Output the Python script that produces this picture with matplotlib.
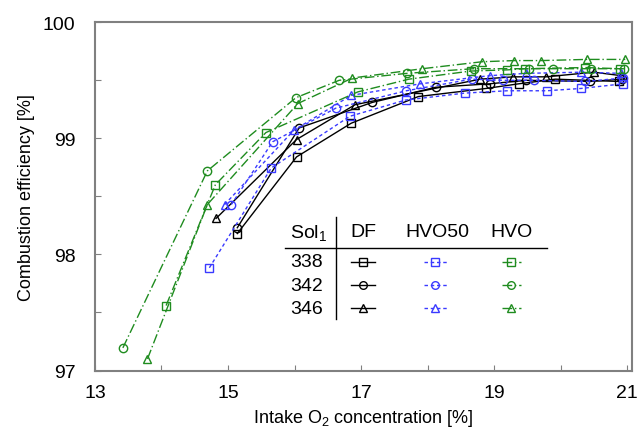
import matplotlib
matplotlib.use("Agg")
import matplotlib.pyplot as plt
from matplotlib.lines import Line2D

plt.rcParams['font.family'] = ['Liberation Sans', 'DejaVu Sans']
plt.rcParams['mathtext.fontset'] = 'custom'
plt.rcParams['mathtext.rm'] = 'Liberation Sans'
plt.rcParams['mathtext.default'] = 'regular'

# intake O2 [%] and combustion efficiency [%] for each fuel / Sol1 setting
df338_x = [15.14, 16.03, 16.85, 17.86, 18.88, 19.37, 19.92, 20.88]
df338_y = [98.18, 98.84, 99.13, 99.36, 99.43, 99.47, 99.51, 99.49]
df342_x = [15.14, 16.07, 17.17, 18.12, 18.93, 19.48, 20.44, 20.92]
df342_y = [98.23, 99.09, 99.31, 99.44, 99.47, 99.50, 99.49, 99.51]
df346_x = [14.82, 16.03, 16.91, 18.79, 19.29, 19.78, 20.50, 20.91]
df346_y = [98.31, 98.99, 99.29, 99.51, 99.53, 99.53, 99.57, 99.54]

h50_338_x = [14.72, 15.65, 16.83, 17.67, 18.56, 19.20, 19.79, 20.31, 20.94]
h50_338_y = [97.885, 98.745, 99.19, 99.33, 99.39, 99.41, 99.41, 99.43, 99.47]
h50_342_x = [15.05, 15.67, 16.62, 17.68, 18.66, 19.14, 19.60, 20.37, 20.94]
h50_342_y = [98.43, 98.97, 99.26, 99.41, 99.51, 99.50, 99.50, 99.49, 99.52]
h50_346_x = [14.95, 15.99, 16.85, 17.89, 18.93, 19.48, 20.31, 20.90]
h50_346_y = [98.43, 99.07, 99.37, 99.47, 99.54, 99.56, 99.57, 99.56]

hvo338_x = [14.07, 14.81, 15.57, 16.95, 17.72, 18.65, 19.20, 19.46, 20.37, 20.89]
hvo338_y = [97.56, 98.60, 99.05, 99.40, 99.51, 99.58, 99.59, 99.60, 99.61, 99.60]
hvo342_x = [13.42, 14.69, 16.02, 16.67, 17.69, 18.69, 19.52, 19.89, 20.46, 20.95]
hvo342_y = [97.195, 98.72, 99.35, 99.50, 99.56, 99.60, 99.60, 99.60, 99.60, 99.60]
hvo346_x = [13.79, 14.69, 16.05, 16.87, 17.92, 18.82, 19.30, 19.70, 20.39, 20.97]
hvo346_y = [97.10, 98.43, 99.30, 99.52, 99.60, 99.66, 99.67, 99.67, 99.68, 99.68]

fuels = ['DF', 'HVO50', 'HVO']
sols = ['338', '342', '346']
colors = ['black', '#3a3aff', '#1f8c1f']
styles = ['-', (0, (2.5, 2)), (0, (7, 2, 1, 2))]
markers = ['s', 'o', '^']

data = [
    [(df338_x, df338_y), (df342_x, df342_y), (df346_x, df346_y)],
    [(h50_338_x, h50_338_y), (h50_342_x, h50_342_y), (h50_346_x, h50_346_y)],
    [(hvo338_x, hvo338_y), (hvo342_x, hvo342_y), (hvo346_x, hvo346_y)],
]

fig = plt.figure(figsize=(6.37, 4.31), dpi=100)
ax = fig.add_axes([0.149, 0.138, 0.843, 0.808])

for f in range(3):
    for s in range(3):
        x, y = data[f][s]
        ax.plot(x, y, color=colors[f], linestyle=styles[f], linewidth=1,
                marker=markers[s], markersize=6, markerfacecolor='none',
                markeredgewidth=1, zorder=3)

ax.set_xlim(13, 21.07)
ax.set_ylim(97, 100)
ax.set_xticks(range(13, 22))
ax.set_xticklabels([str(v) if v % 2 == 1 else '' for v in range(13, 22)])
ax.set_yticks([97, 97.5, 98, 98.5, 99, 99.5, 100])
ax.set_yticklabels(['97', '', '98', '', '99', '', '100'])
ax.tick_params(direction='in', length=4, color='#808080', labelsize=14)
ax.tick_params(axis='x', pad=10)
ax.tick_params(axis='y', pad=14)
for sp in ax.spines.values():
    sp.set_color('#808080')
    sp.set_linewidth(1.5)

ax.set_xlabel('Intake O$_2$ concentration [%]', fontsize=13, labelpad=4)
ax.set_ylabel('Combustion efficiency [%]', fontsize=13, labelpad=6)

# legend table inside the plot
tr = ax.transAxes
def fx(px):
    return (px - 94.8) / (632 - 94.8)
def fy(py):
    return (371.7 - py) / (371.7 - 23.5)

col_x = [363, 437, 512]
row_y = [263, 286.5, 309.5]
sample_x = [(351, 375), (424, 447), (502, 521)]

ax.text(fx(309), fy(233), 'Sol$_1$', transform=tr, fontsize=14, ha='center', va='center')
for f in range(3):
    ax.text(fx(col_x[f]), fy(233), fuels[f], transform=tr, fontsize=14, ha='center', va='center')
for s in range(3):
    ax.text(fx(307), fy(row_y[s]), sols[s], transform=tr, fontsize=14, ha='center', va='center')
    for f in range(3):
        x0, x1 = sample_x[f]
        ax.add_line(Line2D([fx(x0), fx(x1)], [fy(row_y[s]), fy(row_y[s])], transform=tr,
                           color=colors[f], linestyle=styles[f], linewidth=1))
        ax.add_line(Line2D([fx((x0 + x1) / 2)], [fy(row_y[s])], transform=tr,
                           color=colors[f], marker=markers[s], markersize=5.5,
                           markerfacecolor='none', markeredgewidth=1))
ax.add_line(Line2D([fx(285), fx(547)], [fy(249.5), fy(249.5)], transform=tr, color='black', linewidth=1))
ax.add_line(Line2D([fx(336), fx(336)], [fy(218), fy(320)], transform=tr, color='black', linewidth=1))

fig.savefig('out.png', dpi=100)
